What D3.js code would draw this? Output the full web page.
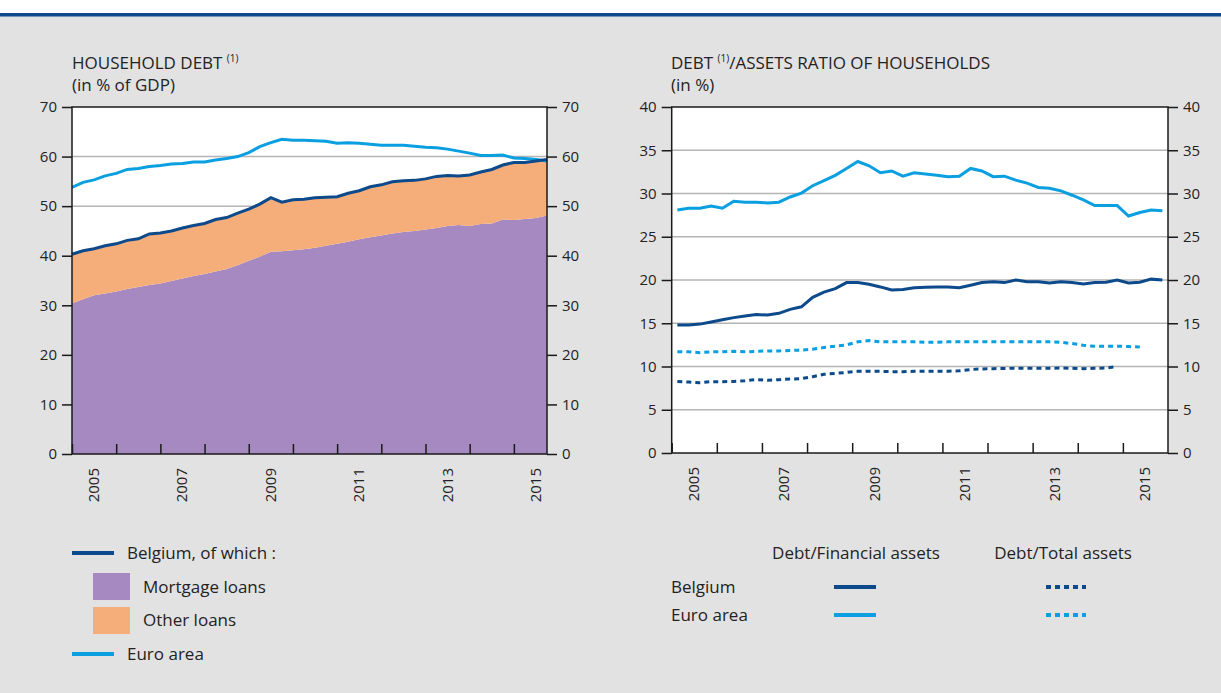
<!DOCTYPE html>
<html>
<head>
<meta charset="utf-8">
<script src="https://cdn.jsdelivr.net/npm/d3@7/dist/d3.min.js"></script>
<style>
  body { margin: 0; background: #ffffff; }
  svg text { font-family: "Open Sans", "Noto Sans", sans-serif; fill: #222; }
</style>
</head>
<body>
<svg id="chart" width="1221" height="693"></svg>
<script>
// Quarterly observations, 2005 Q1 – 2015 Q4
const quarters = [
  "2005Q1","2005Q2","2005Q3","2005Q4","2006Q1","2006Q2","2006Q3","2006Q4",
  "2007Q1","2007Q2","2007Q3","2007Q4","2008Q1","2008Q2","2008Q3","2008Q4",
  "2009Q1","2009Q2","2009Q3","2009Q4","2010Q1","2010Q2","2010Q3","2010Q4",
  "2011Q1","2011Q2","2011Q3","2011Q4","2012Q1","2012Q2","2012Q3","2012Q4",
  "2013Q1","2013Q2","2013Q3","2013Q4","2014Q1","2014Q2","2014Q3","2014Q4",
  "2015Q1","2015Q2","2015Q3","2015Q4"
];
const yearTicks = ["2005","2006","2007","2008","2009","2010","2011","2012","2013","2014","2015"];
const yearLabels = ["2005","2007","2009","2011","2013","2015"];

// Household debt, % of GDP
const mortgageLoans = [30.4,31.2,32.0,32.4,32.8,33.3,33.7,34.1,34.4,34.9,35.4,35.9,36.3,36.8,37.3,38.1,
  39.0,39.8,40.8,40.9,41.1,41.3,41.6,42.0,42.4,42.8,43.3,43.7,44.1,44.5,44.8,45.0,
  45.3,45.6,46.0,46.2,46.0,46.4,46.5,47.3,47.2,47.4,47.6,48.1];
const otherLoans = [9.9,9.8,9.4,9.6,9.6,9.8,9.7,10.3,10.2,10.1,10.2,10.2,10.2,10.5,10.4,10.5,
  10.4,10.6,10.9,9.9,10.2,10.1,10.1,9.8,9.5,9.8,9.8,10.2,10.2,10.4,10.3,10.2,
  10.2,10.4,10.2,9.9,10.3,10.5,10.9,11.0,11.6,11.4,11.5,11.3];
const belgiumDebt = [40.3,41.0,41.4,42.0,42.4,43.1,43.4,44.4,44.6,45.0,45.6,46.1,46.5,47.3,47.7,48.6,
  49.4,50.4,51.7,50.8,51.3,51.4,51.7,51.8,51.9,52.6,53.1,53.9,54.3,54.9,55.1,55.2,
  55.5,56.0,56.2,56.1,56.3,56.9,57.4,58.3,58.8,58.8,59.1,59.4];
const euroDebt = [53.8,54.8,55.3,56.1,56.6,57.4,57.6,58.0,58.2,58.5,58.6,58.9,58.9,59.3,59.6,60.0,
  60.8,62.0,62.8,63.5,63.3,63.3,63.2,63.1,62.7,62.8,62.7,62.5,62.3,62.3,62.3,62.1,
  61.9,61.8,61.5,61.1,60.7,60.2,60.2,60.3,59.7,59.6,59.4,59.1];

// Debt / assets ratio of households, %
const belgiumFinancial = [14.8,14.8,14.9,15.15,15.4,15.65,15.85,16.0,15.95,16.15,16.6,16.9,18.0,18.6,19.0,19.7,
  19.7,19.5,19.2,18.85,18.9,19.1,19.15,19.2,19.2,19.1,19.4,19.7,19.8,19.7,20.0,19.8,
  19.8,19.65,19.8,19.7,19.55,19.7,19.75,20.0,19.65,19.75,20.1,20.0];
const euroFinancial = [28.1,28.3,28.3,28.55,28.3,29.1,29.0,29.0,28.9,29.0,29.6,30.05,30.9,31.5,32.1,32.9,
  33.7,33.2,32.4,32.6,32.0,32.4,32.25,32.1,31.95,32.0,32.9,32.6,31.95,32.0,31.55,31.2,
  30.7,30.6,30.3,29.8,29.25,28.6,28.6,28.6,27.4,27.8,28.1,28.0];
const belgiumTotal = [8.28,8.2,8.13,8.25,8.25,8.28,8.36,8.48,8.4,8.48,8.55,8.6,8.82,9.1,9.2,9.32,
  9.44,9.44,9.44,9.4,9.4,9.45,9.44,9.44,9.45,9.5,9.65,9.72,9.75,9.77,9.8,9.8,
  9.79,9.79,9.83,9.79,9.75,9.79,9.83,10.0];
const euroTotal = [11.7,11.7,11.6,11.7,11.7,11.75,11.7,11.75,11.8,11.8,11.85,11.9,12.0,12.2,12.35,12.5,
  12.85,13.0,12.85,12.85,12.85,12.85,12.8,12.8,12.85,12.87,12.87,12.87,12.87,12.87,12.87,12.87,
  12.87,12.85,12.8,12.65,12.45,12.33,12.33,12.35,12.3,12.25];

const leftTicks = [0,10,20,30,40,50,60,70];
const rightTicks = [0,5,10,15,20,25,30,35,40];

const C = {
  bg: "#e2e2e2", navy: "#0c4a8b", sky: "#0a9fe0",
  mortgage: "#a689c0", other: "#f5ad7a", grid: "#b4b4b4", axis: "#1a1a1a"
};

const svg = d3.select("#chart");
svg.append("rect").attr("width", 1221).attr("height", 693).attr("fill", C.bg);
svg.append("rect").attr("width", 1221).attr("height", 14).attr("fill", "#ffffff");
svg.append("rect").attr("y", 13).attr("width", 1221).attr("height", 3.5).attr("fill", C.navy);

// Shared frame + axes for one panel
function panel(g, x, y, yTicks, tickIdx, labelIdx) {
  const [x0, x1] = x.range(), [y0, y1] = y.range();
  g.append("rect").attr("x", x0).attr("y", y1).attr("width", x1 - x0).attr("height", y0 - y1)
    .attr("fill", "#fff");
  g.append("g").selectAll("line").data(yTicks.filter(t => t > 0 && t < y.domain()[1])).join("line")
    .attr("x1", x0).attr("x2", x1).attr("y1", d => y(d)).attr("y2", d => y(d))
    .attr("stroke", C.grid).attr("stroke-width", 1.5);
  return function frame() {
    const left = g.append("g").attr("transform", `translate(${x0},0)`)
      .call(d3.axisLeft(y).tickValues(yTicks).tickSize(10).tickPadding(5));
    const right = g.append("g").attr("transform", `translate(${x1},0)`)
      .call(d3.axisRight(y).tickValues(yTicks).tickSize(10).tickPadding(5));
    const bottom = g.append("g").attr("transform", `translate(0,${y0})`)
      .call(d3.axisBottom(x).tickValues(tickIdx).tickSize(-10).tickFormat(""));
    [left, right, bottom].forEach(a => {
      a.select(".domain").remove();
      a.selectAll("line").attr("stroke", C.axis).attr("stroke-width", 1.5);
      a.selectAll("text").style("font-size", "15px").attr("fill", "#222");
    });
    g.append("rect").attr("x", x0).attr("y", y1).attr("width", x1 - x0).attr("height", y0 - y1)
      .attr("fill", "none").attr("stroke", C.axis).attr("stroke-width", 1.5);
    g.append("g").selectAll("text").data(yearLabels).join("text")
      .attr("transform", d => `translate(${x(labelIdx(d)) + 5},${y0 + 14}) rotate(-90)`)
      .attr("text-anchor", "end").style("font-size", "15px").text(d => d);
  };
}

function title(g, x, y, main, sup, rest, sub) {
  const t = g.append("text").attr("x", x).attr("y", y).style("font-size", "17px");
  t.append("tspan").text(main);
  t.append("tspan").attr("dy", -7).style("font-size", "10px").text(sup);
  if (rest) t.append("tspan").attr("dy", 7).text(rest);
  g.append("text").attr("x", x).attr("y", y + 22).style("font-size", "17px").text(sub);
}

// ---------- Left panel: household debt ----------
const gL = svg.append("g");
const xL = d3.scaleLinear().domain([0, quarters.length - 1]).range([72, 547]);
const yL = d3.scaleLinear().domain([0, 70]).range([454, 107]);
const yearIdx = yearTicks.map(yr => quarters.indexOf(yr + "Q1"));
const frameL = panel(gL, xL, yL, leftTicks, yearIdx, d => quarters.indexOf(d + "Q1") + 2);

const debtRows = quarters.map((q, i) => ({ q, i, mortgage: mortgageLoans[i], other: otherLoans[i] }));
const stack = d3.stack().keys(["mortgage", "other"])(debtRows);
const area = d3.area().x(d => xL(d.data.i)).y0(d => yL(d[0])).y1(d => yL(d[1]));
gL.append("g").selectAll("path").data(stack).join("path")
  .attr("d", area).attr("fill", d => d.key === "mortgage" ? C.mortgage : C.other);

const lineL = d3.line().x((d, i) => xL(i)).y(d => yL(d));
gL.append("path").datum(euroDebt).attr("d", lineL).attr("fill", "none")
  .attr("stroke", C.sky).attr("stroke-width", 3);
gL.append("path").datum(belgiumDebt).attr("d", lineL).attr("fill", "none")
  .attr("stroke", C.navy).attr("stroke-width", 3);
frameL();
title(gL, 72, 69, "HOUSEHOLD DEBT ", "(1)", null, "(in % of GDP)");

// ---------- Right panel: debt / assets ratio ----------
const gR = svg.append("g");
const xR = d3.scaleLinear().domain([0, quarters.length]).range([671.7, 1168]);
const yR = d3.scaleLinear().domain([0, 40]).range([453, 107]);
const frameR = panel(gR, xR, yR, rightTicks, yearIdx, d => quarters.indexOf(d + "Q1") + 2);

const lineR = d3.line().x((d, i) => xR(i + 0.5)).y(d => yR(d));
const seriesR = [
  { v: euroTotal, c: C.sky, dash: "5,4" },
  { v: belgiumTotal, c: C.navy, dash: "5,4" },
  { v: euroFinancial, c: C.sky, dash: null },
  { v: belgiumFinancial, c: C.navy, dash: null }
];
gR.append("g").selectAll("path").data(seriesR).join("path")
  .attr("d", d => lineR(d.v)).attr("fill", "none").attr("stroke", d => d.c)
  .attr("stroke-width", 3).attr("stroke-dasharray", d => d.dash);
frameR();
title(gR, 671, 69, "DEBT ", "(1)", "/ASSETS RATIO OF HOUSEHOLDS", "(in %)");

// ---------- Legends ----------
const legL = svg.append("g").style("font-size", "17px");
legL.append("line").attr("x1", 72).attr("x2", 114).attr("y1", 553).attr("y2", 553)
  .attr("stroke", C.navy).attr("stroke-width", 4);
legL.append("text").attr("x", 127).attr("y", 559).text("Belgium, of which :");
legL.append("rect").attr("x", 93).attr("y", 573).attr("width", 37).attr("height", 27).attr("fill", C.mortgage);
legL.append("text").attr("x", 143).attr("y", 593).text("Mortgage loans");
legL.append("rect").attr("x", 93).attr("y", 607).attr("width", 37).attr("height", 27).attr("fill", C.other);
legL.append("text").attr("x", 143).attr("y", 626).text("Other loans");
legL.append("line").attr("x1", 72).attr("x2", 114).attr("y1", 654).attr("y2", 654)
  .attr("stroke", C.sky).attr("stroke-width", 4);
legL.append("text").attr("x", 127).attr("y", 660).text("Euro area");

const legR = svg.append("g").style("font-size", "17px");
legR.append("text").attr("x", 856).attr("y", 559).attr("text-anchor", "middle").text("Debt/Financial assets");
legR.append("text").attr("x", 1063).attr("y", 559).attr("text-anchor", "middle").text("Debt/Total assets");
const legRows = [
  { name: "Belgium", c: C.navy, y: 587 },
  { name: "Euro area", c: C.sky, y: 615 }
];
legRows.forEach(r => {
  legR.append("text").attr("x", 671).attr("y", r.y + 6).text(r.name);
  legR.append("line").attr("x1", 834).attr("x2", 876).attr("y1", r.y).attr("y2", r.y)
    .attr("stroke", r.c).attr("stroke-width", 4);
  legR.append("line").attr("x1", 1046).attr("x2", 1086).attr("y1", r.y).attr("y2", r.y)
    .attr("stroke", r.c).attr("stroke-width", 4).attr("stroke-dasharray", "5,4");
});
</script>
</body>
</html>
